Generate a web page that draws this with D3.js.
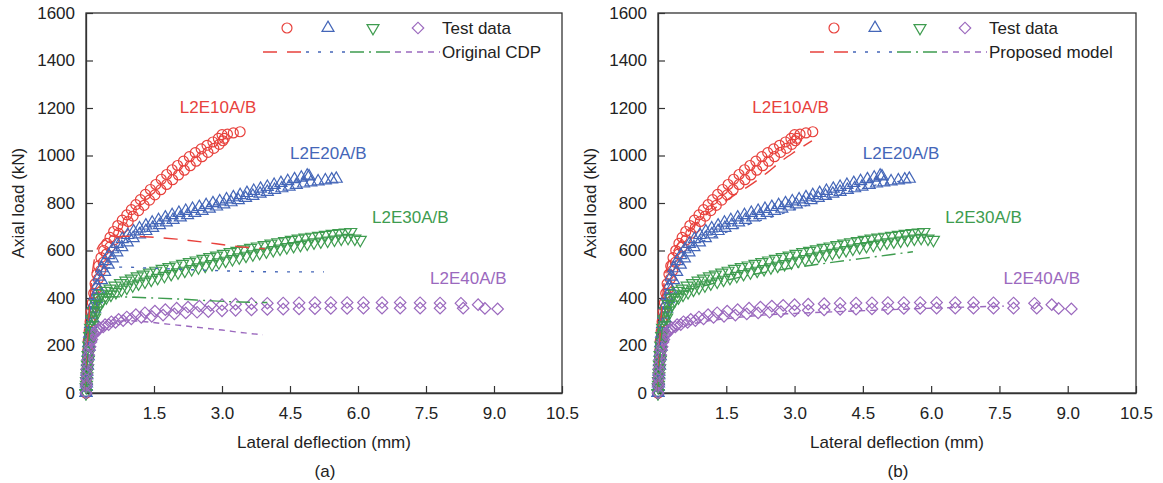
<!DOCTYPE html>
<html>
<head>
<meta charset="utf-8">
<script src="https://cdn.jsdelivr.net/npm/d3@7"></script>
<style>
  body { margin: 0; background: #fff; }
  svg { font-family: "Liberation Sans", Arial, sans-serif; }
</style>
</head>
<body>
<svg id="chart" width="1163" height="483"></svg>
<script>
// test data, [deflection mm, load kN]
var l2e10A = [[0,0],[0.005,30],[0.01,60],[0.02,100],[0.03,140],[0.04,180],[0.05,220],[0.07,260],[0.09,300],[0.11,340],[0.14,380],[0.17,420],[0.2,460],[0.24,500],[0.28,535],[0.33,570],[0.39,600],[0.46,630],[0.53,655],[0.61,680],[0.7,705],[0.8,728],[0.9,750],[1.0,772],[1.1,793],[1.2,814],[1.31,836],[1.42,857],[1.54,878],[1.66,900],[1.78,920],[1.9,940],[2.02,958],[2.15,976],[2.28,995],[2.41,1012],[2.54,1028],[2.67,1043],[2.8,1057],[2.92,1072],[3.0,1088],[3.12,1090],[3.25,1095],[3.4,1100]];
var l2e10B = [[0,0],[0.01,40],[0.02,80],[0.03,120],[0.045,160],[0.06,200],[0.08,240],[0.1,280],[0.13,320],[0.16,360],[0.19,400],[0.23,440],[0.27,480],[0.32,515],[0.38,550],[0.45,585],[0.53,615],[0.62,645],[0.72,672],[0.82,697],[0.93,722],[1.04,745],[1.16,768],[1.28,790],[1.4,812],[1.52,834],[1.65,856],[1.78,878],[1.91,898],[2.04,918],[2.17,938],[2.3,957],[2.43,976],[2.56,995],[2.69,1013],[2.82,1030],[2.94,1047],[3.02,1062],[3.05,1072]];

var l2e20A = [[0,0],[0.005,25],[0.01,50],[0.02,90],[0.03,130],[0.045,170],[0.06,210],[0.08,250],[0.1,290],[0.13,330],[0.16,370],[0.2,410],[0.24,450],[0.29,490],[0.35,525],[0.42,555],[0.5,580],[0.59,605],[0.69,628],[0.8,648],[0.92,665],[1.05,680],[1.18,693],[1.32,705],[1.46,717],[1.6,728],[1.75,739],[1.9,749],[2.05,758],[2.2,767],[2.35,775],[2.5,783],[2.65,791],[2.8,799],[2.95,807],[3.1,815],[3.25,824],[3.4,833],[3.55,842],[3.7,851],[3.85,860],[4.0,868],[4.15,876],[4.3,884],[4.45,892],[4.6,900],[4.75,907],[4.88,915],[4.92,912]];
var l2e20B = [[0,0],[0.01,40],[0.02,75],[0.035,115],[0.05,155],[0.07,195],[0.09,235],[0.12,275],[0.15,315],[0.19,355],[0.23,395],[0.28,435],[0.34,475],[0.41,510],[0.49,540],[0.58,567],[0.68,592],[0.79,614],[0.91,634],[1.04,652],[1.18,668],[1.32,682],[1.47,695],[1.62,707],[1.77,718],[1.92,729],[2.08,739],[2.24,749],[2.4,758],[2.56,767],[2.72,776],[2.88,785],[3.04,794],[3.2,803],[3.36,812],[3.52,821],[3.68,830],[3.84,839],[4.0,847],[4.16,855],[4.32,862],[4.48,869],[4.64,876],[4.8,882],[4.96,887],[5.12,891],[5.28,895],[5.42,899],[5.52,902]];

var l2e30A = [[0,0],[0.005,25],[0.01,50],[0.02,85],[0.03,120],[0.045,160],[0.06,200],[0.08,240],[0.1,275],[0.13,310],[0.17,345],[0.22,375],[0.28,400],[0.35,418],[0.43,430],[0.53,440],[0.64,452],[0.76,463],[0.88,473],[1.0,482],[1.13,491],[1.26,499],[1.4,507],[1.54,515],[1.68,523],[1.83,530],[1.98,537],[2.13,544],[2.28,551],[2.43,558],[2.58,565],[2.73,572],[2.88,579],[3.03,586],[3.18,593],[3.33,599],[3.48,605],[3.63,611],[3.78,617],[3.93,623],[4.08,629],[4.23,635],[4.38,640],[4.53,645],[4.68,650],[4.83,654],[4.98,658],[5.13,662],[5.28,666],[5.43,670],[5.58,673],[5.72,676],[5.84,678]];
var l2e30B = [[0,0],[0.01,35],[0.02,70],[0.035,105],[0.05,140],[0.07,180],[0.09,215],[0.12,250],[0.15,285],[0.19,318],[0.24,348],[0.3,372],[0.37,390],[0.45,403],[0.55,414],[0.66,425],[0.78,435],[0.9,444],[1.03,453],[1.16,461],[1.3,469],[1.44,477],[1.58,485],[1.73,493],[1.88,501],[2.03,508],[2.18,515],[2.33,522],[2.48,529],[2.63,536],[2.78,543],[2.93,550],[3.08,557],[3.23,564],[3.38,571],[3.53,578],[3.68,584],[3.83,590],[3.98,596],[4.13,602],[4.28,608],[4.43,614],[4.58,619],[4.73,624],[4.88,629],[5.03,634],[5.18,638],[5.33,642],[5.48,646],[5.63,650],[5.78,653],[5.93,650],[6.05,645]];

var l2e40A = [[0,0],[0.005,30],[0.01,60],[0.02,100],[0.04,140],[0.07,180],[0.11,215],[0.16,245],[0.22,262],[0.3,275],[0.42,288],[0.56,300],[0.72,310],[0.9,320],[1.1,330],[1.3,338],[1.52,345],[1.75,351],[2.0,357],[2.25,362],[2.5,366],[2.75,369],[3.0,372],[3.3,374],[3.65,376],[4.0,378],[4.35,379],[4.7,380],[5.05,381],[5.4,381],[5.76,381],[6.12,381],[6.53,381],[6.93,381],[7.37,380],[7.81,379],[8.27,378],[8.65,372]];
var l2e40B = [[0,0],[0.01,40],[0.02,80],[0.035,120],[0.06,160],[0.09,195],[0.13,225],[0.19,250],[0.27,265],[0.38,278],[0.5,288],[0.65,297],[0.82,305],[1.0,312],[1.22,318],[1.45,323],[1.7,328],[1.95,333],[2.2,337],[2.45,340],[2.7,343],[3.0,346],[3.3,348],[3.65,350],[4.0,352],[4.35,353],[4.7,354],[5.05,355],[5.4,356],[5.76,356],[6.12,357],[6.53,357],[6.93,357],[7.37,357],[7.81,357],[8.32,357],[8.8,356],[9.08,354]];

// original CDP model curves (panel a)
var cdp10 = [[0,0],[0.05,250],[0.1,420],[0.15,520],[0.22,590],[0.35,635],[0.6,655],[0.9,660],[1.4,657],[2.0,648],[2.6,635],[3.2,620],[3.95,607]];
var cdp20 = [[0,0],[0.05,200],[0.1,350],[0.17,450],[0.25,500],[0.4,525],[0.8,530],[1.5,525],[2.5,518],[3.5,512],[4.5,510],[5.25,510]];
var cdp30 = [[0,0],[0.05,180],[0.1,300],[0.18,370],[0.3,398],[0.6,405],[1.2,402],[2.0,396],[2.8,388],[3.4,383],[4.0,381]];
var cdp40 = [[0,0],[0.05,120],[0.12,200],[0.25,250],[0.5,285],[0.9,305],[1.3,300],[1.8,290],[2.4,278],[3.0,265],[3.5,253],[3.9,245]];

// proposed model curves (panel b)
var prop10 = [[0,0],[0.05,250],[0.1,400],[0.2,530],[0.35,600],[0.6,665],[0.9,725],[1.3,785],[1.62,826],[2.0,872],[2.4,928],[2.7,975],[3.0,1015],[3.38,1062]];
var prop20 = [[0,0],[0.05,200],[0.1,330],[0.2,450],[0.35,540],[0.6,600],[1.0,640],[1.4,670],[2.0,710],[2.8,760],[3.5,805],[4.2,845],[4.9,880],[5.5,895]];
var prop30 = [[0,0],[0.05,170],[0.1,290],[0.2,370],[0.4,410],[0.8,440],[1.3,465],[1.9,492],[2.5,513],[3.2,533],[3.9,552],[4.5,567],[5.1,582],[5.6,595]];
var prop40 = [[0,0],[0.05,110],[0.12,190],[0.25,240],[0.5,275],[1.0,300],[1.6,315],[2.3,328],[3.0,335],[4.0,343],[5.0,350],[6.0,357],[7.0,363],[7.6,366]];

var specimens = ["L2E10A/B", "L2E20A/B", "L2E30A/B", "L2E40A/B"];
var labelPos = [[2.07, 1204], [4.5, 1010], [6.31, 737], [7.59, 484]];
var xTicks = [1.5, 3.0, 4.5, 6.0, 7.5, 9.0, 10.5];
var yTicks = [0, 200, 400, 600, 800, 1000, 1200, 1400, 1600];

var colors = ["#e8413c", "#4466b8", "#3e9c4f", "#9b69be"];
var dashes = ["14,10", "3,9", "14,5,2,5", "6,5"];

var svg = d3.select("#chart");
var plotTop = 13, plotBottom = 393;

// marker shapes
function markerPath(i) {
  if (i == 0) return d3.symbol().type(d3.symbolCircle).size(78)();
  if (i == 1 || i == 2) return d3.symbol().type(d3.symbolTriangle).size(62)();
  return d3.symbol().type(d3.symbolSquare).size(66)();
}
var markerRotate = [0, 0, 180, 45];

function drawPanel(left, right, models, legendText, legendShift, caption) {
  var x = d3.scaleLinear().domain([0, 10.5]).range([left, right]);
  var y = d3.scaleLinear().domain([0, 1600]).range([plotBottom, plotTop]);
  var g = svg.append("g");

  // frame
  g.append("rect")
    .attr("x", left).attr("y", plotTop)
    .attr("width", right - left).attr("height", plotBottom - plotTop)
    .attr("fill", "none").attr("stroke", "#333").attr("stroke-width", 1.3);

  // x axis
  var xAxis = g.append("g")
    .attr("transform", "translate(0," + plotBottom + ")")
    .call(d3.axisBottom(x).tickValues(xTicks).tickSizeInner(-7).tickSizeOuter(0)
      .tickPadding(14).tickFormat(d3.format(".1f")));
  // y axis
  var yAxis = g.append("g")
    .attr("transform", "translate(" + left + ",0)")
    .call(d3.axisLeft(y).tickValues(yTicks).tickSizeInner(-7).tickSizeOuter(0)
      .tickPadding(11).tickFormat(d3.format("d")));
  [xAxis, yAxis].forEach(function(a) {
    a.select(".domain").attr("stroke", "#333").attr("stroke-width", 1.3);
    a.selectAll(".tick line").attr("stroke", "#333").attr("stroke-width", 1.2);
    a.selectAll("text").attr("font-size", "17px").attr("fill", "#222")
      .attr("font-family", "Liberation Sans, Arial, sans-serif");
  });

  // axis titles
  g.append("text")
    .attr("x", (left + right) / 2).attr("y", 448)
    .attr("text-anchor", "middle").attr("font-size", "17px").attr("fill", "#222")
    .text("Lateral deflection (mm)");
  g.append("text")
    .attr("transform", "translate(" + (left - 62) + "," + ((plotTop + plotBottom) / 2) + ") rotate(-90)")
    .attr("text-anchor", "middle").attr("font-size", "17px").attr("fill", "#222")
    .text("Axial load (kN)");
  g.append("text")
    .attr("x", (left + right) / 2 + 1).attr("y", 477)
    .attr("text-anchor", "middle").attr("font-size", "17px").attr("fill", "#222")
    .text(caption);

  // test data markers
  var tests = [[l2e10A, l2e10B], [l2e20A, l2e20B], [l2e30A, l2e30B], [l2e40A, l2e40B]];
  tests.forEach(function(pair, i) {
    pair.forEach(function(series) {
      g.append("g").selectAll("path")
        .data(series)
        .enter()
        .append("path")
        .attr("d", markerPath(i))
        .attr("transform", function(d) {
          return "translate(" + x(d[0]) + "," + y(d[1]) + ") rotate(" + markerRotate[i] + ")";
        })
        .attr("fill", "none")
        .attr("stroke", colors[i])
        .attr("stroke-width", 1.2);
    });
  });

  // model lines
  var line = d3.line()
    .x(function(d) { return x(d[0]); })
    .y(function(d) { return y(d[1]); })
    .curve(d3.curveMonotoneX);
  models.forEach(function(m, i) {
    g.append("path")
      .datum(m)
      .attr("d", line)
      .attr("fill", "none")
      .attr("stroke", colors[i])
      .attr("stroke-width", 1.4)
      .style("stroke-dasharray", dashes[i]);
  });

  // specimen labels
  specimens.forEach(function(s, i) {
    g.append("text")
      .attr("x", x(labelPos[i][0])).attr("y", y(labelPos[i][1]))
      .attr("dominant-baseline", "central")
      .attr("font-size", "17px")
      .attr("fill", colors[i])
      .text(s);
  });

  // legend
  var mx = [201, 242, 287, 332];
  mx.forEach(function(dx, i) {
    g.append("path")
      .attr("d", markerPath(i))
      .attr("transform", "translate(" + (left + dx - legendShift) + ",28) rotate(" + markerRotate[i] + ")")
      .attr("fill", "none")
      .attr("stroke", colors[i])
      .attr("stroke-width", 1.2);
  });
  var lx = [177, 220, 264, 309, 354];
  for (var i = 0; i < 4; i++) {
    g.append("line")
      .attr("x1", left + lx[i] - legendShift).attr("x2", left + lx[i + 1] - legendShift)
      .attr("y1", 52).attr("y2", 52)
      .attr("stroke", colors[i])
      .attr("stroke-width", 1.4)
      .style("stroke-dasharray", dashes[i]);
  }
  g.append("text")
    .attr("x", left + 356 - legendShift).attr("y", 28)
    .attr("dominant-baseline", "central").attr("font-size", "17px").attr("fill", "#222")
    .text("Test data");
  g.append("text")
    .attr("x", left + 356 - legendShift).attr("y", 52)
    .attr("dominant-baseline", "central").attr("font-size", "17px").attr("fill", "#222")
    .text(legendText);
}

drawPanel(86, 562, [cdp10, cdp20, cdp30, cdp40], "Original CDP", 0, "(a)");
drawPanel(658, 1136, [prop10, prop20, prop30, prop40], "Proposed model", 25, "(b)");
</script>
</body>
</html>
